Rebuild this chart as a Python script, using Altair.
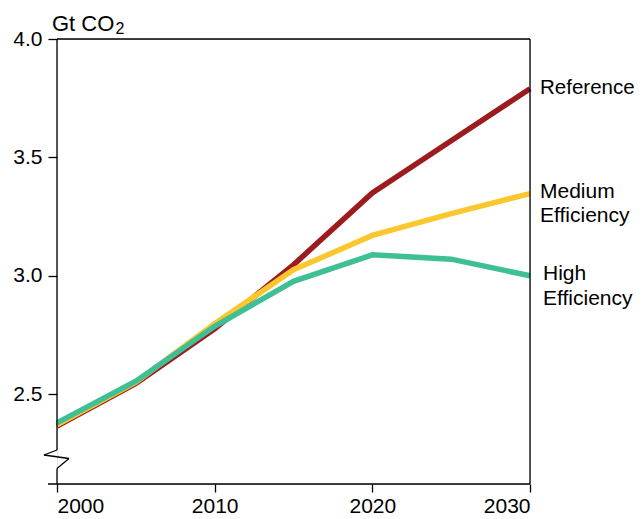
import altair as alt
import pandas as pd

years = [2000, 2005, 2010, 2015, 2020, 2025, 2030]
reference = [2.365, 2.545, 2.776, 3.046, 3.35, 3.57, 3.79]
medium = [2.37, 2.55, 2.797, 3.025, 3.17, 3.262, 3.347]
high = [2.378, 2.554, 2.786, 2.976, 3.088, 3.07, 3.0]

series_names = ["Reference", "Medium Efficiency", "High Efficiency"]
series_colors = ["#9B1B1F", "#FBC72E", "#3FBF96"]
x_ticks = [2000, 2010, 2020, 2030]
y_ticks = [2.5, 3.0, 3.5, 4.0]

FONT = "Liberation Sans"
W, H = 473, 445

rows = []
for name, vals in zip(series_names, [reference, medium, high]):
    for yr, v in zip(years, vals):
        rows.append({"year": yr, "value": v, "series": name})
df = pd.DataFrame(rows)

xscale = alt.Scale(domain=[2000, 2030], nice=False, zero=False)
yscale = alt.Scale(domain=[2.12, 4.0], nice=False, zero=False)

base_x = alt.X("year:Q", scale=xscale,
               axis=alt.Axis(values=x_ticks, format="d", title=None, grid=False,
                             domain=False, tickSize=8, tickColor="black", tickWidth=1.3,
                             labelFontSize=21, labelFont=FONT, labelColor="black",
                             labelPadding=3))
base_y = alt.Y("value:Q", scale=yscale,
               axis=alt.Axis(values=y_ticks, format=".1f", title=None, grid=False,
                             domain=False, tickSize=9, tickColor="black", tickWidth=1.3,
                             labelFontSize=21, labelFont=FONT, labelColor="black",
                             labelPadding=6))

lines = alt.Chart(df).mark_line(strokeWidth=5.5).encode(
    x=base_x,
    y=base_y,
    color=alt.Color("series:N", scale=alt.Scale(domain=series_names, range=series_colors), legend=None),
    order=alt.Order("year:Q"),
    detail="series:N",
)

one = alt.Data(values=[{}])
layers = [lines]

# series labels at the end of each line
label_specs = [
    ("Reference", reference[-1], 10, 5, 20.5),
    ("Medium", medium[-1], 10, 4, 21),
    ("Efficiency", medium[-1], 10, 28, 21),
    ("High", high[-1], 13, 4.5, 21),
    ("Efficiency", high[-1], 13, 29, 21),
]
for txt, v, dx, dy, fs in label_specs:
    layers.append(
        alt.Chart(one).mark_text(text=txt, align="left", baseline="alphabetic",
                                 dx=dx, dy=dy, fontSize=fs, font=FONT, color="black")
        .encode(x=alt.datum(years[-1]), y=alt.datum(v))
    )

# frame and broken left axis (decoration, pixel positions)
segs = [
    (0, W, 0, 0),          # top
    (W, W, 0, H),          # right
    (-9, W, H, H),         # bottom
    (0, 0, 0, 411),        # left upper
    (0, -13, 411, 416),    # zigzag
    (-13, 12, 416, 419.5),
    (12, 0, 419.5, 429.5),
    (0, 0, 429.5, H),      # left lower
]
for x1, x2, y1, y2 in segs:
    layers.append(
        alt.Chart(one).mark_rule(color="black", strokeWidth=1.3).encode(
            x=alt.value(x1), x2=alt.value(x2), y=alt.value(y1), y2=alt.value(y2))
    )

# axis title "Gt CO2" with subscript
layers.append(alt.Chart(one).mark_text(text="Gt CO", align="left", baseline="alphabetic",
                                       fontSize=22, font=FONT, color="black")
              .encode(x=alt.value(-5), y=alt.value(-8.5)))
layers.append(alt.Chart(one).mark_text(text="2", align="left", baseline="alphabetic",
                                       fontSize=16, font=FONT, color="black")
              .encode(x=alt.value(58.5), y=alt.value(-5)))

chart = alt.layer(*layers).properties(
    width=W, height=H,
    padding={"left": 49, "top": 31, "right": 104, "bottom": 32},
    autosize=alt.AutoSizeParams(type="none"),
).configure_view(stroke=None).configure(background="white")

chart.save("out.html", embed_options={"renderer": "svg", "actions": False})
